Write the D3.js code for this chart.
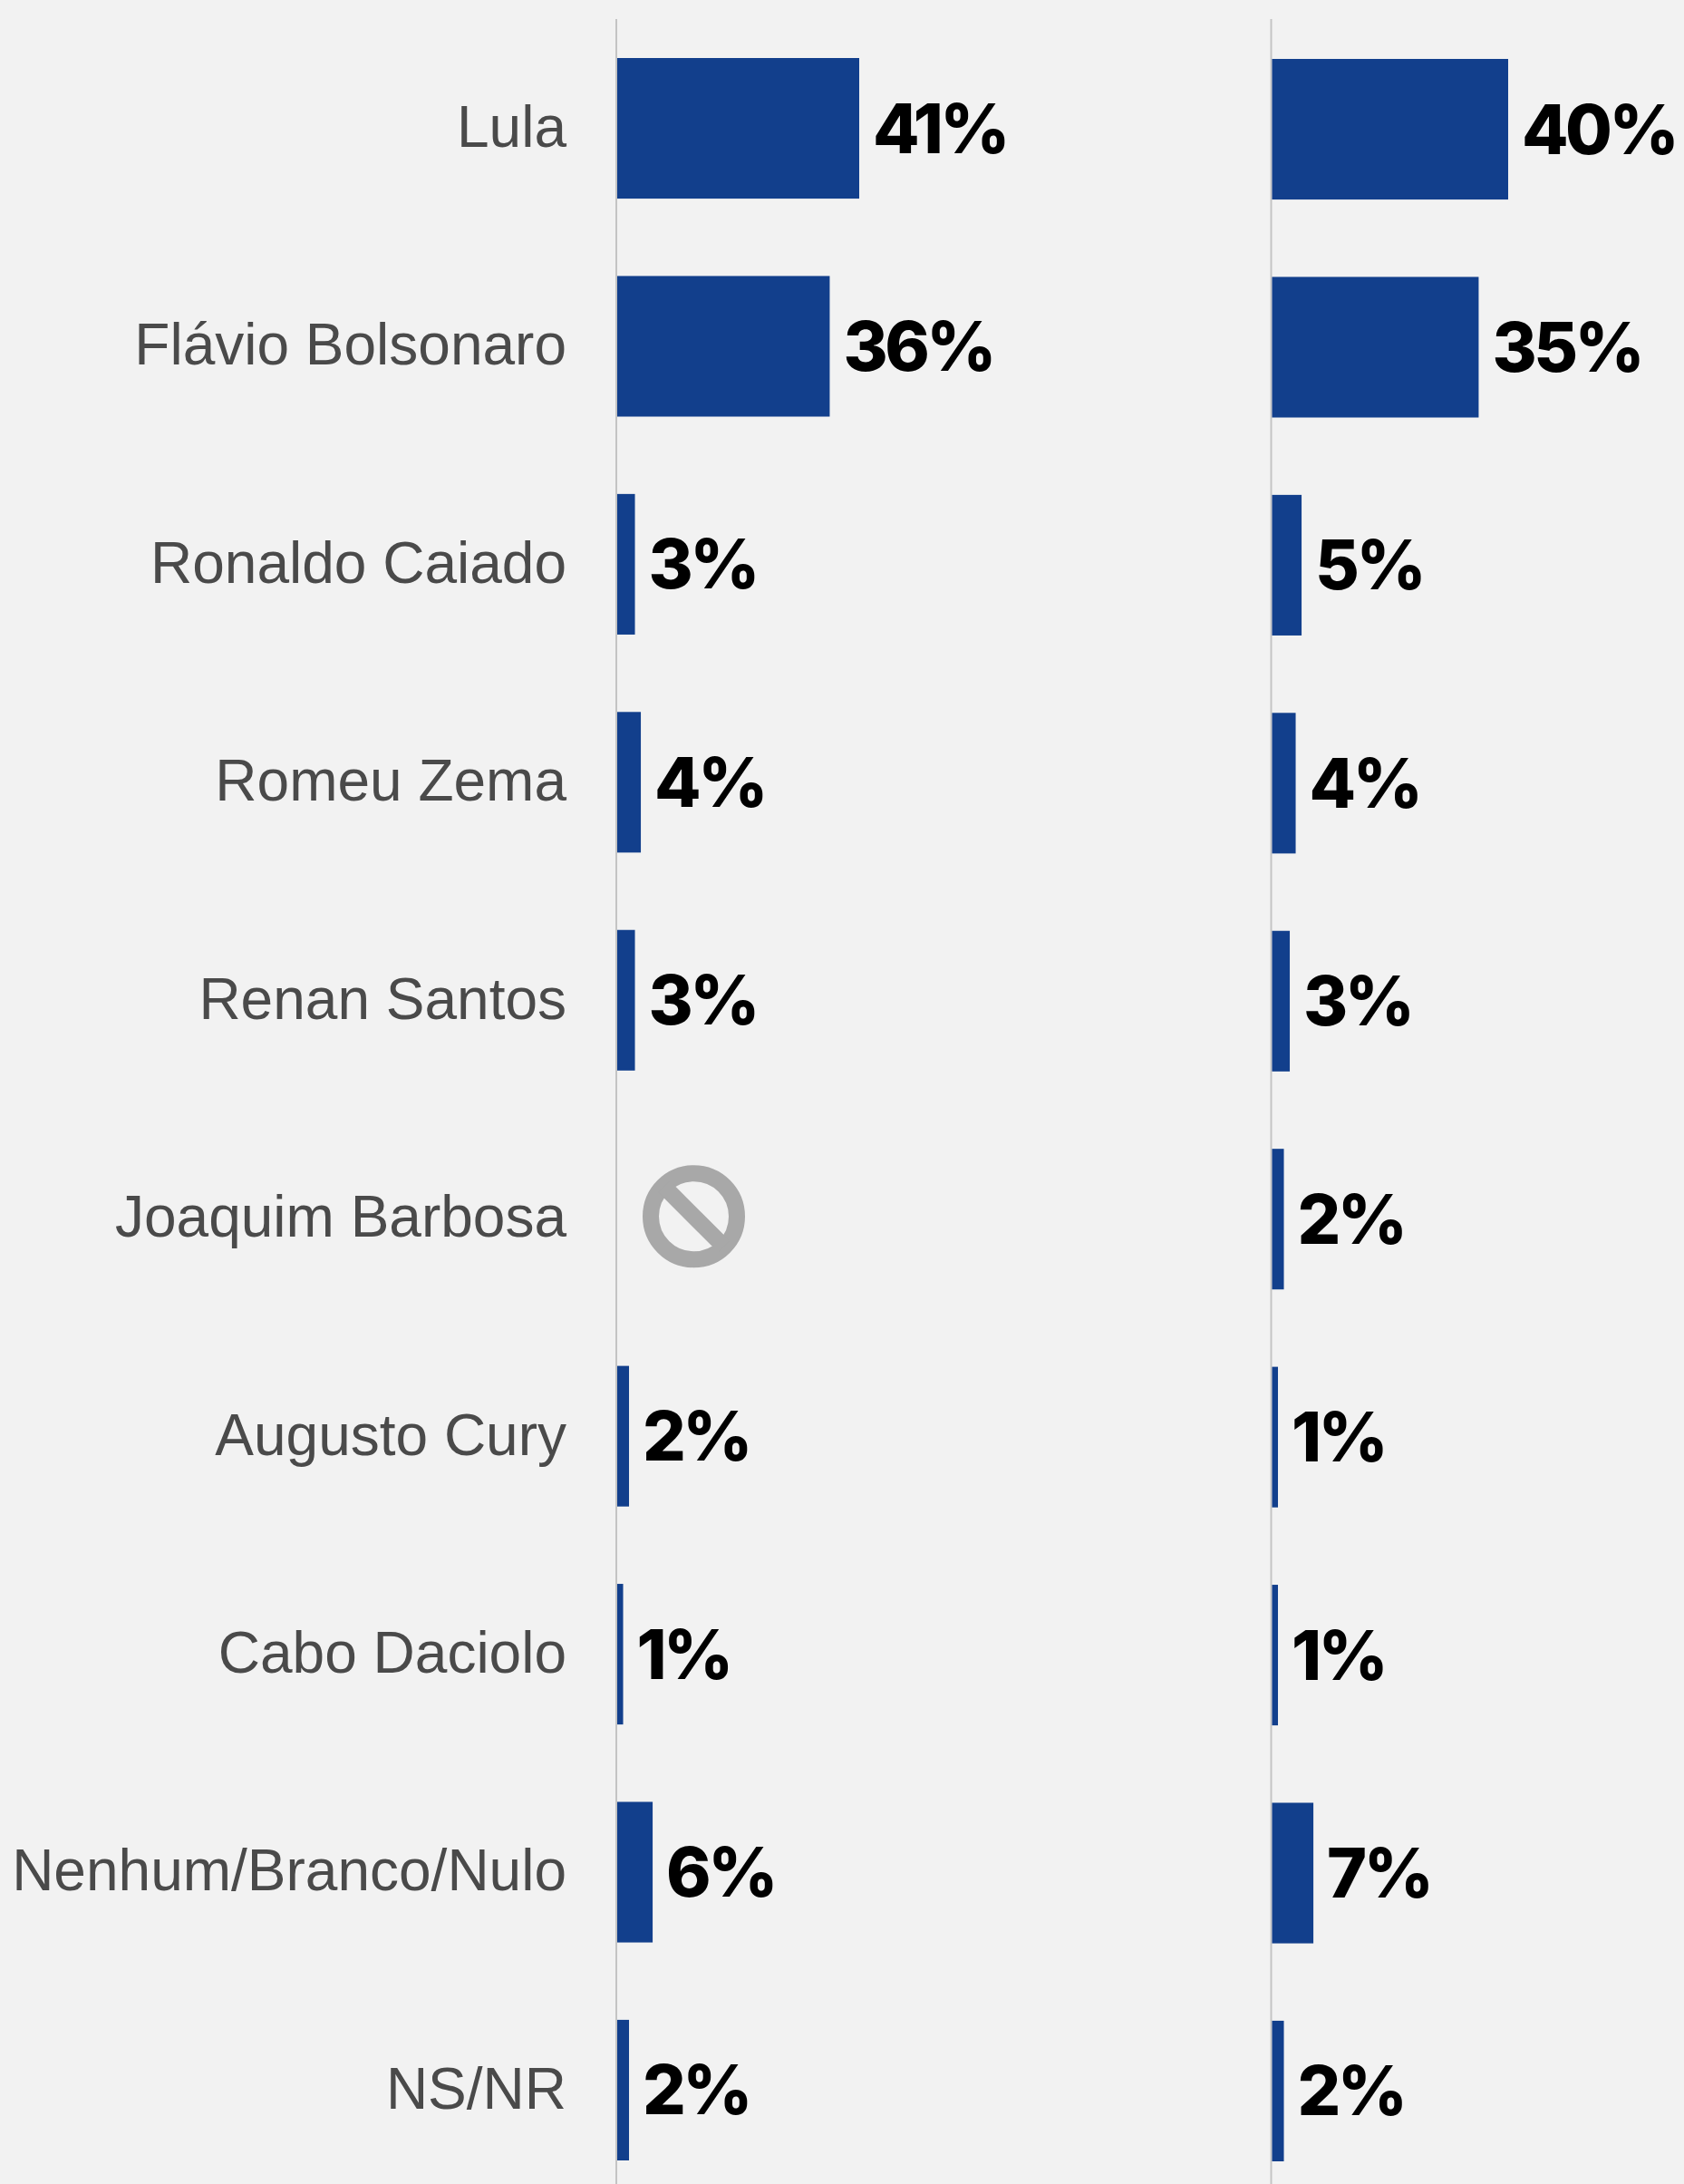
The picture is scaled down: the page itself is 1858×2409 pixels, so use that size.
<!DOCTYPE html>
<html>
<head>
<meta charset="utf-8">
<script src="https://cdn.jsdelivr.net/npm/d3@7"></script>
<style>
  html, body { margin: 0; padding: 0; background: #f2f2f2; }
  svg { display: block; }
</style>
</head>
<body>
<div id="chart"></div>
<script>
var width = 1858
var height = 2409

// Data
var candidates = ['Lula', 'Flávio Bolsonaro', 'Ronaldo Caiado', 'Romeu Zema', 'Renan Santos',
  'Joaquim Barbosa', 'Augusto Cury', 'Cabo Daciolo', 'Nenhum/Branco/Nulo', 'NS/NR']
var leftValues = [41, 36, 3, 4, 3, null, 2, 1, 6, 2]
var rightValues = [40, 35, 5, 4, 3, 2, 1, 1, 7, 2]

var svg = d3.select('#chart')
  .append('svg')
  .attr('width', width)
  .attr('height', height)

svg.append('rect')
  .attr('width', width)
  .attr('height', height)
  .attr('fill', '#f2f2f2')

var y = d3.scaleBand()
  .domain(candidates)
  .range([64, 2383])
  .paddingInner(0.355)

var x = d3.scaleLinear()
  .domain([0, 41])
  .range([0, 267])

function column(values, left, dy) {
  var g = svg.append('g')
    .attr('transform', 'translate(' + left + ',' + dy + ')')

  g.append('line')
    .attr('x1', -1)
    .attr('x2', -1)
    .attr('y1', 21 - dy)
    .attr('y2', height)
    .attr('stroke', '#c4c4c4')
    .attr('stroke-width', 2)

  var rows = candidates.map(function (c, i) { return { name: c, value: values[i] } })
    .filter(function (d) { return d.value !== null })

  g.selectAll('rect')
    .data(rows)
    .enter()
    .append('rect')
    .attr('x', 0)
    .attr('y', function (d) { return y(d.name) })
    .attr('width', function (d) { return x(d.value) })
    .attr('height', y.bandwidth())
    .attr('fill', '#123f8c')

  g.selectAll('text')
    .data(rows)
    .enter()
    .append('text')
    .attr('x', function (d) { return x(d.value) + 15 })
    .attr('y', function (d) { return y(d.name) + y.bandwidth() / 2 })
    .attr('dy', '0.36em')
    .attr('font-family', 'Inter')
    .attr('font-weight', 800)
    .attr('font-size', 75)
    .attr('letter-spacing', -3.5)
    .attr('fill', '#000')
    .text(function (d) { return d.value + '%' })
}

// candidate names
svg.append('g')
  .selectAll('text')
  .data(candidates)
  .enter()
  .append('text')
  .attr('x', 625)
  .attr('y', function (d) { return y(d) + y.bandwidth() / 2 - 2 })
  .attr('dy', '0.35em')
  .attr('text-anchor', 'end')
  .attr('font-family', 'Liberation Sans')
  .attr('font-size', 64)
  .attr('fill', '#4a4a4a')
  .text(function (d) { return d })

column(leftValues, 681, 0)
column(rightValues, 1403.5, 1)

// "not tested" icon where the left column has no value
var missing = candidates[leftValues.indexOf(null)]
var icon = svg.append('g')
  .attr('transform', 'translate(765.5,' + (y(missing) + y.bandwidth() / 2 - 2) + ')')
icon.append('circle')
  .attr('r', 47.5)
  .attr('fill', 'none')
  .attr('stroke', '#a8a8a8')
  .attr('stroke-width', 18)
icon.append('line')
  .attr('x1', -33)
  .attr('y1', -33)
  .attr('x2', 33)
  .attr('y2', 33)
  .attr('stroke', '#a8a8a8')
  .attr('stroke-width', 18)
</script>
</body>
</html>
